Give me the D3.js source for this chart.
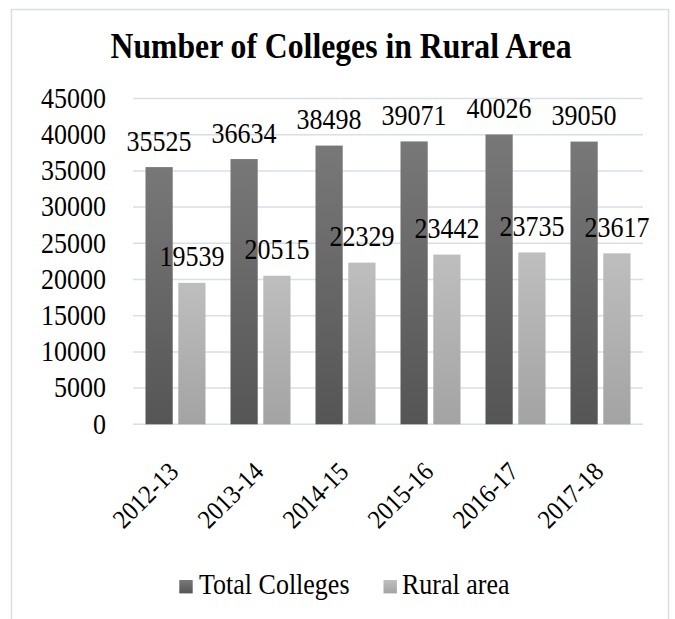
<!DOCTYPE html>
<html>
<head>
<meta charset="utf-8">
<script src="https://cdn.jsdelivr.net/npm/d3@7"></script>
<style>
  html, body { margin: 0; padding: 0; background: #fff; }
</style>
</head>
<body>
<svg id="chart" width="675" height="619"></svg>
<script>
// Academic years and series values
const years = ["2012-13", "2013-14", "2014-15", "2015-16", "2016-17", "2017-18"];
const totalColleges = [35525, 36634, 38498, 39071, 40026, 39050];
const ruralArea = [19539, 20515, 22329, 23442, 23735, 23617];
const seriesNames = ["Total Colleges", "Rural area"];
const yTicks = [0, 5000, 10000, 15000, 20000, 25000, 30000, 35000, 40000, 45000];
const chartTitle = "Number of Colleges in Rural Area";

const FONT = "'Liberation Serif', 'Times New Roman', Times, serif";
const FS = 26;          // label font size
const STRETCH = 1.1;    // text is drawn slightly taller than wide

const svg = d3.select("#chart");

// Plot area in page coordinates
const plot = { left: 133, right: 643, top: 98.5, bottom: 424.3 };

// Gradients for bar and legend fills
const defs = svg.append("defs");
const gradStops = [
  { id: "gTotal", top: "#787878", bottom: "#555555" },
  { id: "gRural", top: "#bebebe", bottom: "#a3a3a3" }
];
gradStops.forEach(g => {
  const lg = defs.append("linearGradient").attr("id", g.id)
    .attr("x1", 0).attr("y1", 0).attr("x2", 0).attr("y2", 1);
  lg.append("stop").attr("offset", "0%").attr("stop-color", g.top);
  lg.append("stop").attr("offset", "100%").attr("stop-color", g.bottom);
});

// Outer frame (bottom edge runs past the page)
svg.append("rect")
  .attr("x", 11.5).attr("y", 9.5)
  .attr("width", 657).attr("height", 640)
  .attr("fill", "#fff").attr("stroke", "#d9dee7").attr("stroke-width", 1.5);

function styleText(sel, size) {
  return sel.style("font-family", FONT).style("font-size", size + "px").style("fill", "#000");
}

// Title
styleText(svg.append("text"), 31.7)
  .attr("transform", `translate(341,58.3) scale(1,${STRETCH})`)
  .attr("text-anchor", "middle")
  .style("font-weight", "bold")
  .text(chartTitle);

const x0 = d3.scaleBand().domain(years).range([plot.left, plot.right])
  .paddingInner(0.294).paddingOuter(0.147);
const x1 = d3.scaleBand().domain(seriesNames).range([0, x0.bandwidth()]).paddingInner(0.17);
const y = d3.scaleLinear().domain([0, 45000]).range([plot.bottom, plot.top]);

// Horizontal gridlines
svg.append("g").selectAll("line").data(yTicks).join("line")
  .attr("x1", plot.left).attr("x2", plot.right)
  .attr("y1", d => y(d)).attr("y2", d => y(d))
  .attr("stroke", "#d9dee7").attr("stroke-width", 1.5);

// Y axis tick labels
const yAxis = d3.axisLeft(y).tickValues(yTicks).tickSize(0).tickFormat(d3.format("d"));
const yg = svg.append("g").attr("transform", `translate(${plot.left},0)`).call(yAxis);
yg.select(".domain").remove();
styleText(yg.selectAll("text"), FS)
  .attr("x", 0).attr("dy", null)
  .attr("transform", `translate(-27,8.8) scale(1,${STRETCH})`);

// Bars with value labels
const series = [
  { name: seriesNames[0], values: totalColleges, fill: "url(#gTotal)" },
  { name: seriesNames[1], values: ruralArea, fill: "url(#gRural)" }
];
series.forEach(s => {
  const sg = svg.append("g");
  sg.selectAll("rect").data(years).join("rect")
    .attr("x", d => x0(d) + x1(s.name))
    .attr("y", (d, i) => y(s.values[i]))
    .attr("width", x1.bandwidth())
    .attr("height", (d, i) => y(0) - y(s.values[i]))
    .attr("fill", s.fill);
  styleText(sg.selectAll("text").data(years).join("text"), FS)
    .attr("transform", (d, i) =>
      `translate(${x0(d) + x1(s.name) + x1.bandwidth() / 2},${y(s.values[i]) - 16.5}) scale(1,${STRETCH})`)
    .attr("text-anchor", "middle")
    .text((d, i) => s.values[i]);
});

// X axis category labels, rotated
const xAxis = d3.axisBottom(x0).tickSize(0).tickPadding(0);
const xg = svg.append("g").attr("transform", `translate(0,${plot.bottom})`).call(xAxis);
xg.select(".domain").remove();
styleText(xg.selectAll("text"), 24)
  .attr("text-anchor", "end")
  .attr("y", 0).attr("dy", null)
  .attr("transform", `translate(4.5,49) rotate(-45) scale(1,${STRETCH})`);

// Legend
const legendItems = [
  { name: seriesNames[0], fill: "url(#gTotal)", x: 179.3, tx: 199 },
  { name: seriesNames[1], fill: "url(#gRural)", x: 383.5, tx: 402 }
];
const legend = svg.append("g");
legendItems.forEach(it => {
  legend.append("rect").attr("x", it.x).attr("y", 580)
    .attr("width", 13.4).attr("height", 13.4).attr("fill", it.fill);
  styleText(legend.append("text"), FS)
    .attr("transform", `translate(${it.tx},594.3) scale(1,${STRETCH})`)
    .text(it.name);
});
</script>
</body>
</html>
